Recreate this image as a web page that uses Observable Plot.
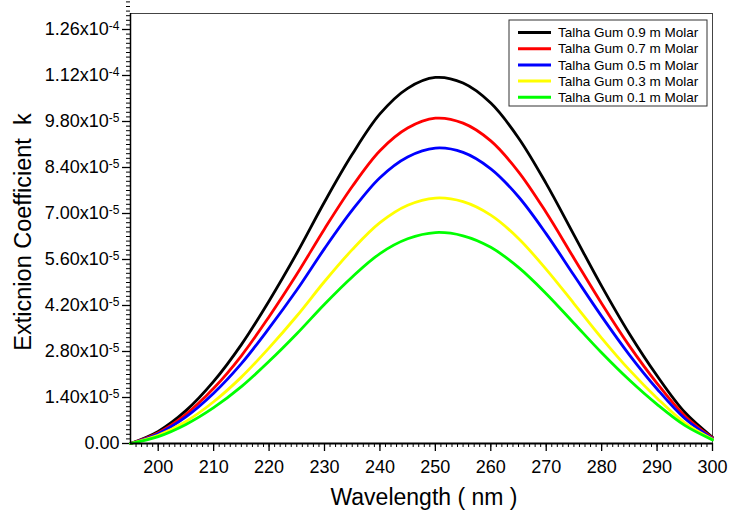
<!DOCTYPE html>
<html>
<head>
<meta charset="utf-8">
<script src="https://cdn.jsdelivr.net/npm/d3@7"></script>
<script src="https://cdn.jsdelivr.net/npm/@observablehq/plot@0.6"></script>
<style>
  html, body { margin: 0; padding: 0; background: #fff; }
  #chart { position: relative; width: 729px; height: 512px; overflow: hidden; }
</style>
</head>
<body>
<div id="chart"></div>
<script>
// ---- data ----
const wavelength = [195,200,205,210,215,220,225,230,235,240,245,250,255,260,265,270,275,280,285,290,295,300];
// extinction coefficient k, in units of 1e-5
const gum09 = [0,0.37,1.00,1.89,3.01,4.34,5.79,7.35,8.80,10.03,10.81,11.14,10.97,10.36,9.30,7.91,6.35,4.79,3.34,2.06,0.95,0.19];
const gum07 = [0,0.33,0.89,1.68,2.67,3.86,5.15,6.53,7.82,8.91,9.60,9.90,9.75,9.21,8.27,7.03,5.64,4.26,2.97,1.83,0.84,0.17];
const gum05 = [0,0.30,0.81,1.53,2.43,3.51,4.67,5.93,7.10,8.09,8.72,8.99,8.86,8.36,7.51,6.38,5.12,3.87,2.70,1.66,0.76,0.15];
const gum03 = [0,0.25,0.67,1.27,2.02,2.91,3.88,4.93,5.90,6.72,7.25,7.47,7.36,6.95,6.24,5.30,4.26,3.21,2.24,1.38,0.63,0.13];
const gum01 = [0,0.21,0.58,1.09,1.73,2.50,3.34,4.24,5.07,5.78,6.23,6.42,6.32,5.97,5.36,4.56,3.66,2.76,1.93,1.19,0.55,0.11];

const seriesNames = ["Talha Gum 0.9 m Molar","Talha Gum 0.7 m Molar","Talha Gum 0.5 m Molar","Talha Gum 0.3 m Molar","Talha Gum 0.1 m Molar"];
const seriesColors = ["#000000","#ff0000","#0000ff","#ffff00","#00ff00"];
const seriesValues = [gum09, gum07, gum05, gum03, gum01];

const xTicks = [200,210,220,230,240,250,260,270,280,290,300];
const yTicks = [0,1.4e-5,2.8e-5,4.2e-5,5.6e-5,7.0e-5,8.4e-5,9.8e-5,1.12e-4,1.26e-4];
const yTickLabels = ["0.00","1.40x10^-5","2.80x10^-5","4.20x10^-5","5.60x10^-5","7.00x10^-5","8.40x10^-5","9.80x10^-5","1.12x10^-4","1.26x10^-4"];
const xLabel = "Wavelength ( nm )";
const yLabel = "Exticnion Coefficient  k";

// ---- table ----
const rows = [];
seriesNames.forEach((name, s) => {
  wavelength.forEach((w, i) => rows.push({series: name, wavelength: w, k: seriesValues[s][i] * 1e-5}));
});

const xMinor = d3.range(196, 301, 1);
const yMinor = d3.range(0, 131).map(i => i * 1.4e-6);

const W = 729, H = 512;
const mL = 130, mR = 17, mT = 13, mB = 69;
const FONT = "'Liberation Sans', Arial, sans-serif";

const chart = Plot.plot({
  width: W, height: H,
  marginLeft: mL, marginRight: mR, marginTop: mT, marginBottom: mB,
  style: {fontFamily: FONT, fontSize: "18px", color: "#000", background: "#fff"},
  x: {domain: [195, 300]},
  y: {domain: [0, 1.3087e-4]},
  color: {domain: seriesNames, range: seriesColors},
  marks: [
    Plot.frame({stroke: "#444", strokeWidth: 1}),
    Plot.axisX(xMinor, {tickSize: 4, tickFormat: () => "", label: null, strokeWidth: 1}),
    Plot.axisX(xTicks, {tickSize: 8, tickPadding: 9, tickFormat: d => String(d), label: null, strokeWidth: 1.3}),
    Plot.axisY(yMinor, {tickSize: 4, tickFormat: () => "", label: null, strokeWidth: 1}),
    Plot.axisY(yTicks, {tickSize: 8, tickPadding: 3, tickFormat: (d, i) => yTickLabels[i], label: null, strokeWidth: 1.3}),
    Plot.line(rows, {x: "wavelength", y: "k", z: "series", stroke: "series", curve: "catmull-rom", strokeWidth: 2.8}),
    Plot.ruleY([0], {stroke: "#000", strokeWidth: 2}),
    Plot.ruleX([195], {stroke: "#000", strokeWidth: 1.5})
  ]
});

document.getElementById("chart").appendChild(chart);

const svg = d3.select(chart);

// superscript exponents in y tick labels
svg.selectAll("text").each(function () {
  const t = this.textContent;
  if (t.includes("^") && this.children.length === 0) {
    const [base, exp] = t.split("^");
    const el = d3.select(this);
    el.text(null);
    el.append("tspan").text(base);
    el.append("tspan").attr("dy", "-0.45em").style("font-size", "12px").text(exp);
  }
});

// ---- axis titles and legend ----
svg.append("text")
  .attr("x", (mL + W - mR) / 2 + 3).attr("y", 505)
  .attr("text-anchor", "middle")
  .style("font-size", "23px").style("font-family", FONT)
  .attr("fill", "#000")
  .text(xLabel);
svg.append("text")
  .attr("transform", `translate(31,232) rotate(-90)`)
  .attr("text-anchor", "middle")
  .style("font-size", "23.5px").style("font-family", FONT)
  .attr("fill", "#000")
  .text(yLabel);

const lg = svg.append("g").attr("transform", "translate(509,20)");
lg.append("rect").attr("width", 198).attr("height", 86).attr("fill", "#fff").attr("stroke", "#333").attr("stroke-width", 1);
seriesNames.forEach((name, i) => {
  const yy = 12.5 + i * 16.2;
  lg.append("line").attr("x1", 9).attr("x2", 42).attr("y1", yy).attr("y2", yy)
    .attr("stroke", seriesColors[i]).attr("stroke-width", 3);
  lg.append("text").attr("x", 49).attr("y", yy).attr("dy", "0.35em")
    .attr("text-anchor", "start")
    .style("font-size", "13.5px").style("font-family", FONT)
    .attr("fill", "#000").text(name);
});
</script>
</body>
</html>
